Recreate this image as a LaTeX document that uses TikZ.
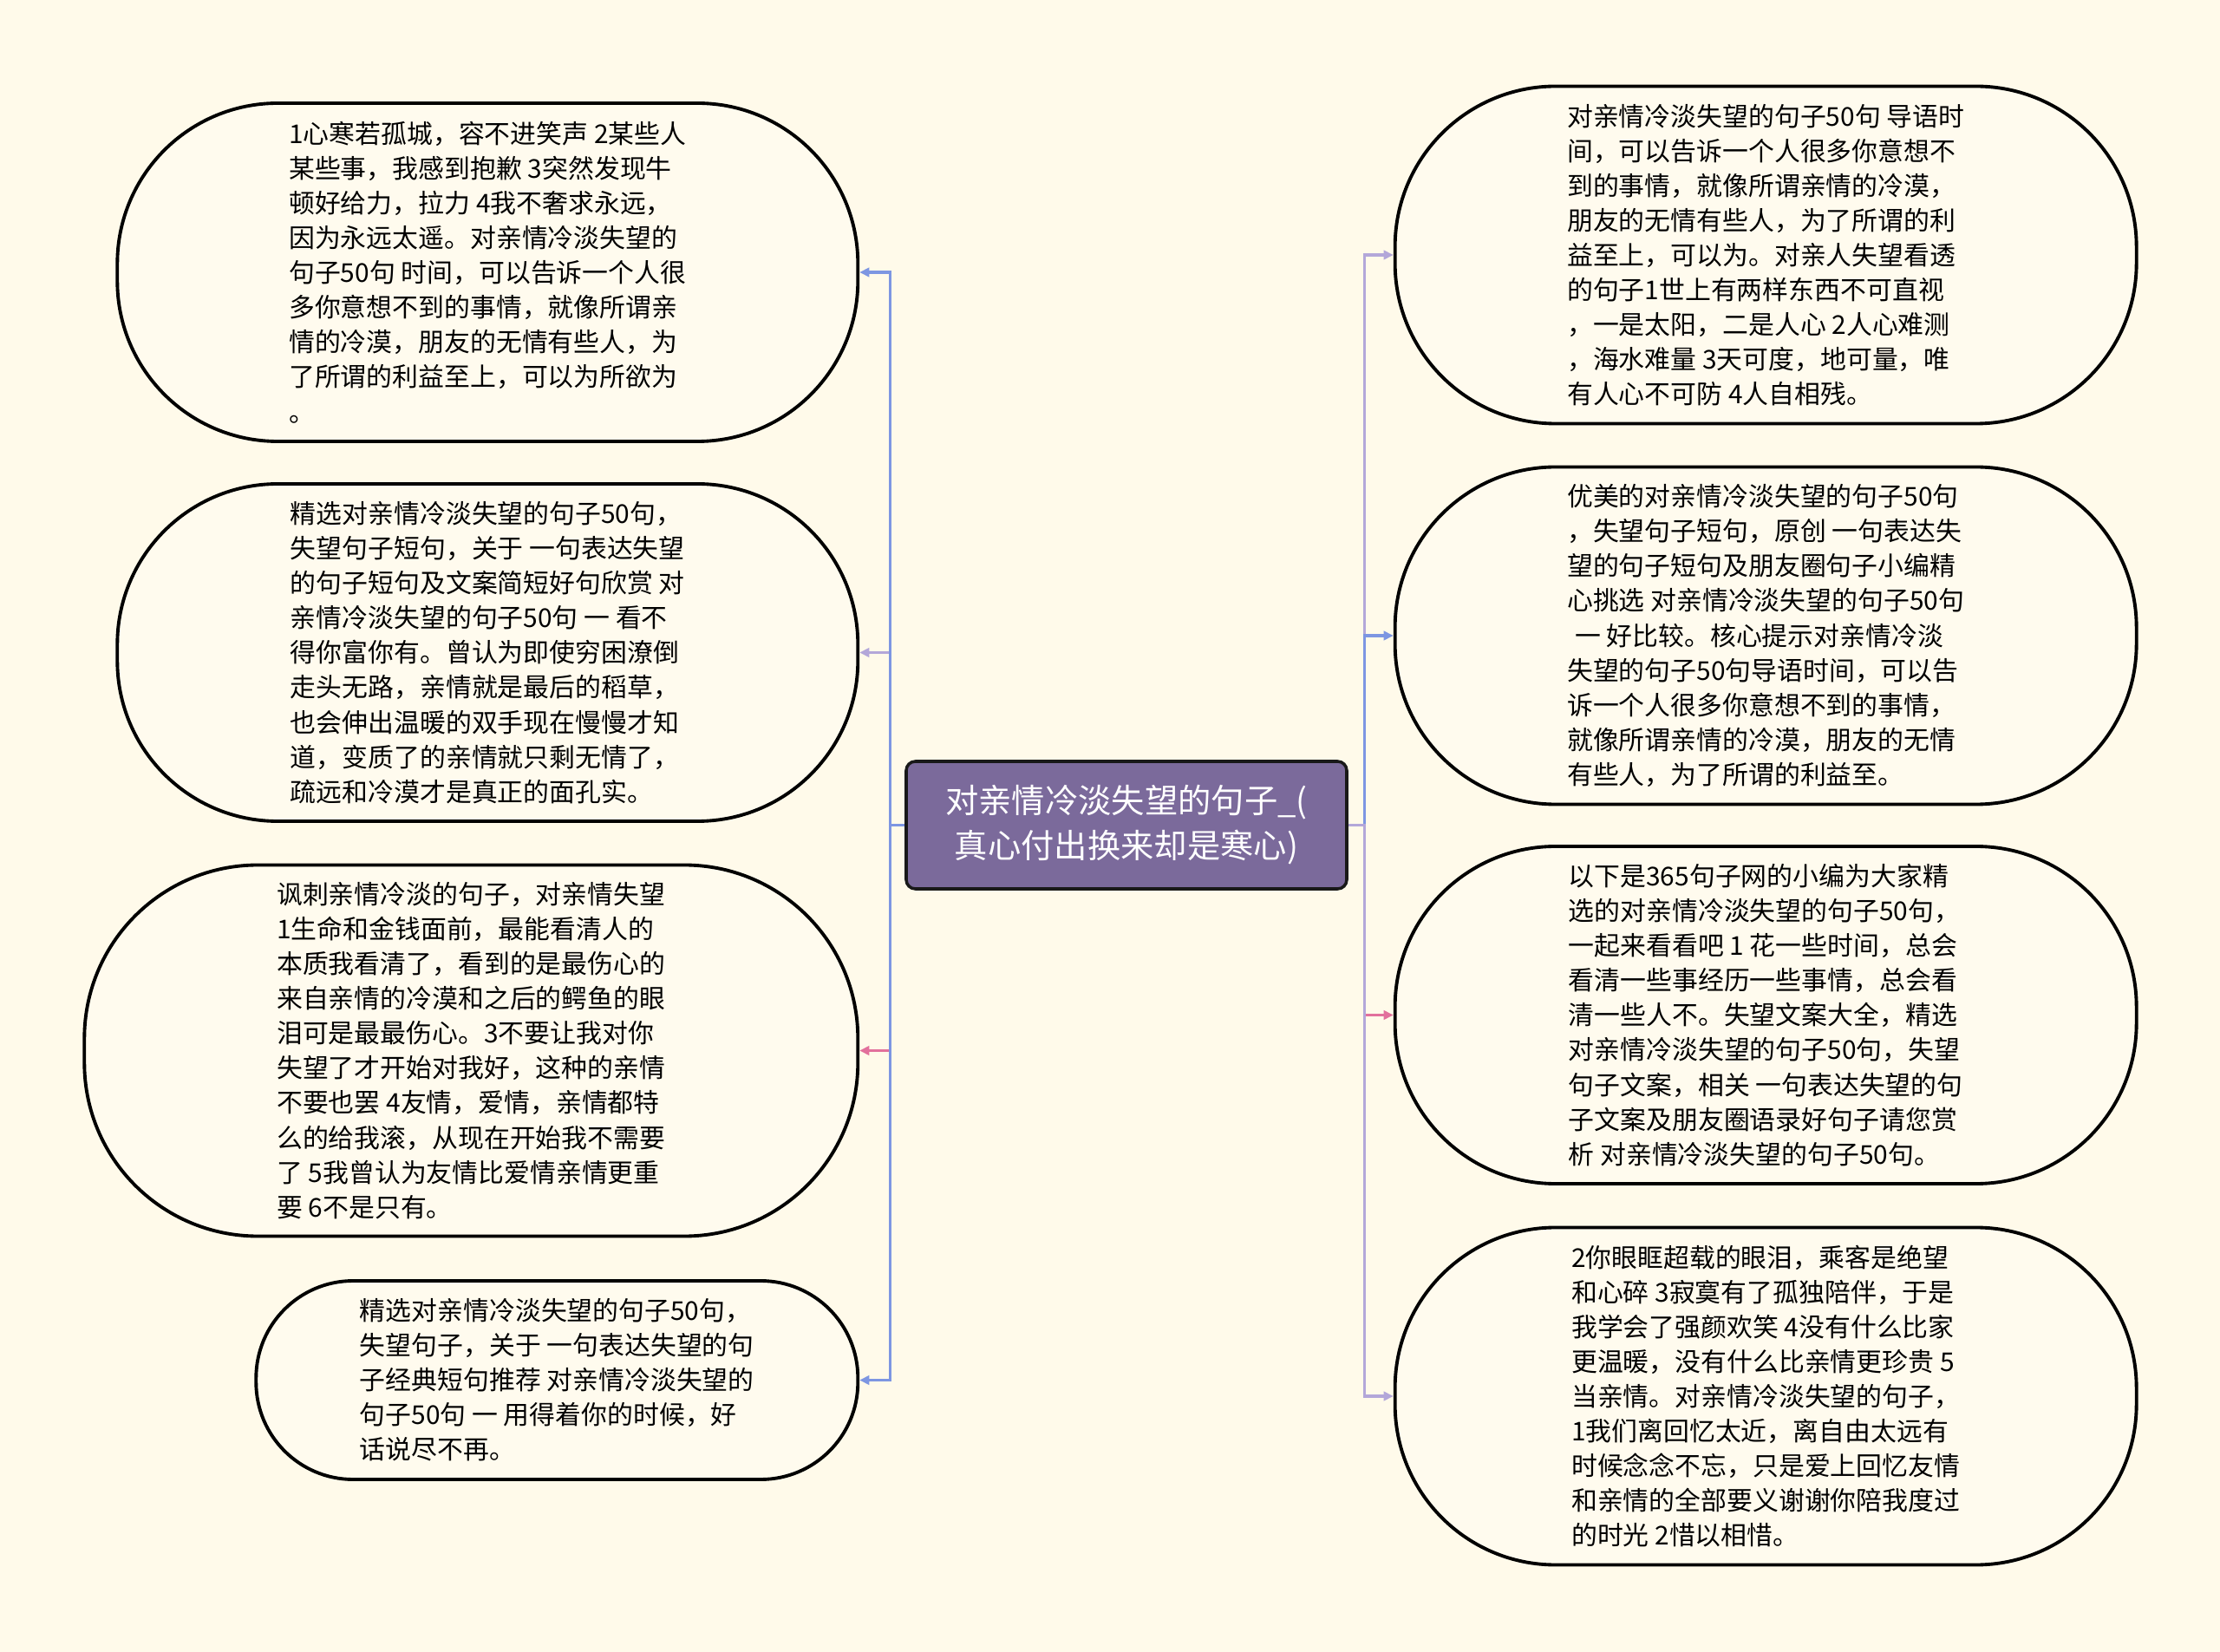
\documentclass[tikz,border=0pt]{standalone}
\usepackage{fontspec}
\setmainfont{Noto Sans CJK SC}
\usepackage{xcolor}
\usepackage{tikz}
\usetikzlibrary{arrows.meta,positioning,calc}

\definecolor{bgcream}{HTML}{FFFAEA}
\definecolor{boxcream}{HTML}{FFFBEE}
\definecolor{rootfill}{HTML}{7B6A9B}
\definecolor{cblue}{HTML}{7D96E2}
\definecolor{clav}{HTML}{B3A7D9}
\definecolor{cpink}{HTML}{E2709C}

\begin{document}
\begin{tikzpicture}[
   every node/.style={font=\fontsize{8.5}{11.4}\selectfont},
   root/.style={draw=black!90,line width=1pt,rectangle,rounded corners=3pt,fill=rootfill,
                text=white,minimum width=5.08cm,minimum height=1.47cm,align=center,
                font=\fontsize{10.9}{14.8}\selectfont},
   leaf/.style={draw=black,line width=1.1pt,rectangle,rounded corners=#1,fill=boxcream,
                align=left,inner sep=0pt},
   ln/.style={line width=0.9pt,-{Triangle[length=3.2pt,width=3pt]}}
]
\useasboundingbox[fill=bgcream] (-12.99,9.515) rectangle (12.61,-9.535);

\node[root] (C) at (0,0) {对亲情冷淡失望的句子\_(\\真心付出换来却是寒心)};

% left side
\node[leaf=1.85cm,minimum width=8.54cm,minimum height=3.90cm,left=0.52cm of C,yshift=6.375cm] (L1)
  {1心寒若孤城，容不进笑声 2某些人\\某些事，我感到抱歉 3突然发现牛\\顿好给力，拉力 4我不奢求永远，\\因为永远太遥。对亲情冷淡失望的\\句子50句 时间，可以告诉一个人很\\多你意想不到的事情，就像所谓亲\\情的冷漠，朋友的无情有些人，为\\了所谓的利益至上，可以为所欲为\\。};
\node[leaf=1.85cm,minimum width=8.54cm,minimum height=3.89cm,left=0.52cm of C,yshift=1.99cm] (L2)
  {精选对亲情冷淡失望的句子50句，\\失望句子短句，关于 一句表达失望\\的句子短句及文案简短好句欣赏 对\\亲情冷淡失望的句子50句 一 看不\\得你富你有。曾认为即使穷困潦倒\\走头无路，亲情就是最后的稻草，\\也会伸出温暖的双手现在慢慢才知\\道，变质了的亲情就只剩无情了，\\疏远和冷漠才是真正的面孔实。};
\node[leaf=2.0cm,minimum width=8.92cm,minimum height=4.28cm,left=0.52cm of C,yshift=-2.60cm] (L3)
  {讽刺亲情冷淡的句子，对亲情失望\\1生命和金钱面前，最能看清人的\\本质我看清了，看到的是最伤心的\\来自亲情的冷漠和之后的鳄鱼的眼\\泪可是最最伤心。3不要让我对你\\失望了才开始对我好，这种的亲情\\不要也罢 4友情，爱情，亲情都特\\么的给我滚，从现在开始我不需要\\了 5我曾认为友情比爱情亲情更重\\要 6不是只有。};
\node[leaf=1.12cm,minimum width=6.94cm,minimum height=2.29cm,left=0.52cm of C,yshift=-6.40cm] (L4)
  {精选对亲情冷淡失望的句子50句，\\失望句子，关于 一句表达失望的句\\子经典短句推荐 对亲情冷淡失望的\\句子50句 一 用得着你的时候，好\\话说尽不再。};

% right side
\node[leaf=1.85cm,minimum width=8.55cm,minimum height=3.89cm,right=0.52cm of C,yshift=6.575cm] (R1)
  {对亲情冷淡失望的句子50句 导语时\\间，可以告诉一个人很多你意想不\\到的事情，就像所谓亲情的冷漠，\\朋友的无情有些人，为了所谓的利\\益至上，可以为。对亲人失望看透\\的句子1世上有两样东西不可直视\\，一是太阳，二是人心 2人心难测\\，海水难量 3天可度，地可量，唯\\有人心不可防 4人自相残。};
\node[leaf=1.85cm,minimum width=8.55cm,minimum height=3.89cm,right=0.52cm of C,yshift=2.185cm] (R2)
  {优美的对亲情冷淡失望的句子50句\\，失望句子短句，原创 一句表达失\\望的句子短句及朋友圈句子小编精\\心挑选 对亲情冷淡失望的句子50句\\\hspace*{.3em}一 好比较。核心提示对亲情冷淡\\失望的句子50句导语时间，可以告\\诉一个人很多你意想不到的事情，\\就像所谓亲情的冷漠，朋友的无情\\有些人，为了所谓的利益至。};
\node[leaf=1.85cm,minimum width=8.55cm,minimum height=3.89cm,right=0.52cm of C,yshift=-2.19cm] (R3)
  {以下是365句子网的小编为大家精\\选的对亲情冷淡失望的句子50句，\\一起来看看吧 1 花一些时间，总会\\看清一些事经历一些事情，总会看\\清一些人不。失望文案大全，精选\\对亲情冷淡失望的句子50句，失望\\句子文案，相关 一句表达失望的句\\子文案及朋友圈语录好句子请您赏\\析 对亲情冷淡失望的句子50句。};
\node[leaf=1.85cm,minimum width=8.55cm,minimum height=3.89cm,right=0.52cm of C,yshift=-6.585cm] (R4)
  {2你眼眶超载的眼泪，乘客是绝望\\和心碎 3寂寞有了孤独陪伴，于是\\我学会了强颜欢笑 4没有什么比家\\更温暖，没有什么比亲情更珍贵 5\\当亲情。对亲情冷淡失望的句子，\\1我们离回忆太近，离自由太远有\\时候念念不忘，只是爱上回忆友情\\和亲情的全部要义谢谢你陪我度过\\的时光 2惜以相惜。};

% trunks
\coordinate (lt) at ([xshift=-0.17cm]C.west);
\coordinate (rt) at ([xshift=0.19cm]C.east);

\draw[ln,clav]  (C.west) -- (lt) |- (L2.east);
\draw[ln,cpink] (C.west) -- (lt) |- (L3.east);
\draw[ln,cblue] (C.west) -- (lt) |- (L1.east);
\draw[ln,cblue] (C.west) -- (lt) |- (L4.east);

\draw[ln,clav]  (C.east) -- (rt) |- (R1.west);
\draw[ln,cpink] (C.east) -- (rt) |- (R3.west);
\draw[ln,cblue] (C.east) -- (rt) |- (R2.west);
\draw[ln,clav]  (C.east) -- (rt) |- (R4.west);

\end{tikzpicture}
\end{document}
